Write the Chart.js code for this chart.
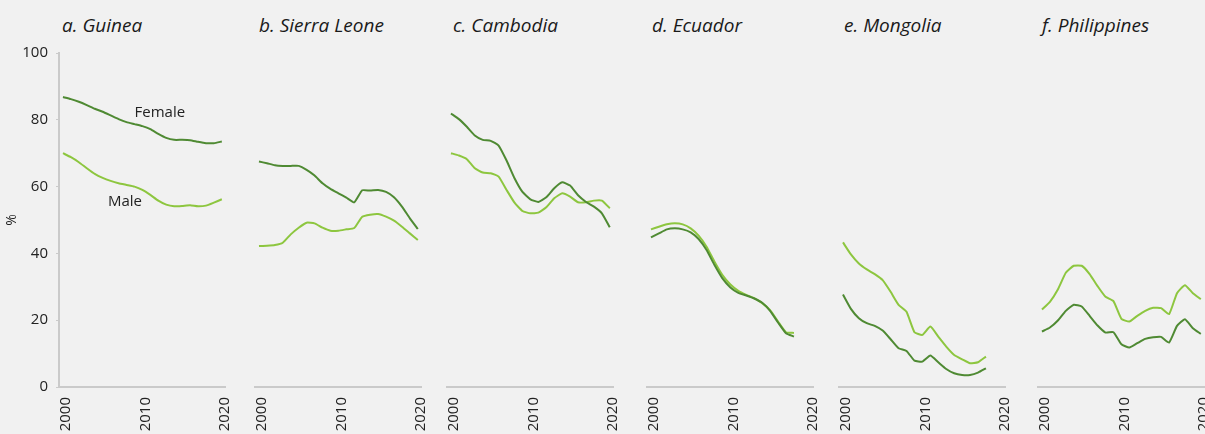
<!DOCTYPE html>
<html>
<head>
<meta charset="utf-8">
<script src="https://cdn.jsdelivr.net/npm/chart.js@4.4.1/dist/chart.umd.min.js"></script>
<style>
  html, body { margin: 0; padding: 0; background: #f1f1f1; }
  #fig { position: relative; width: 1205px; height: 434px; overflow: hidden; background: #f1f1f1;
         font-family: "Open Sans", sans-serif; }
  .panel { position: absolute; top: 0; height: 434px; }
  .ttl { position: absolute; top: 12px; font-style: italic; font-size: 19px; color: #1a1a1a; white-space: nowrap; }
</style>
</head>
<body>
<div id="fig">
  <div class="ttl" style="left:62px">a. Guinea</div>
  <div class="ttl" style="left:259px">b. Sierra Leone</div>
  <div class="ttl" style="left:453px">c. Cambodia</div>
  <div class="ttl" style="left:652px">d. Ecuador</div>
  <div class="ttl" style="left:844px">e. Mongolia</div>
  <div class="ttl" style="left:1042px">f. Philippines</div>
  <canvas id="pa" class="panel" style="left:0px" width="235" height="434"></canvas>
  <canvas id="pb" class="panel" style="left:245px" width="186" height="434"></canvas>
  <canvas id="pc" class="panel" style="left:437px" width="186" height="434"></canvas>
  <canvas id="pd" class="panel" style="left:637px" width="186" height="434"></canvas>
  <canvas id="pe" class="panel" style="left:829px" width="186" height="434"></canvas>
  <canvas id="pf" class="panel" style="left:1028px" width="186" height="434"></canvas>
</div>
<script>
// Years on the horizontal axis
const years = [2000, 2001, 2002, 2003, 2004, 2005, 2006, 2007, 2008, 2009, 2010,
               2011, 2012, 2013, 2014, 2015, 2016, 2017, 2018, 2019, 2020];
const xTickYears = [2000, 2010, 2020];
const yTickValues = [0, 20, 40, 60, 80, 100];

// Share of each group, percent
const guineaFemale = [86.8, 86.2, 85.4, 84.4, 83.3, 82.4, 81.3, 80.2, 79.3, 78.7, 78.1,
                      77.2, 75.8, 74.6, 74.0, 74.0, 73.9, 73.4, 73.0, 73.0, 73.5];
const guineaMale   = [70.0, 68.8, 67.3, 65.5, 63.8, 62.6, 61.7, 61.0, 60.5, 60.0, 59.0,
                      57.5, 55.8, 54.6, 54.1, 54.2, 54.4, 54.1, 54.3, 55.2, 56.2];

const sierraLeoneFemale = [67.5, 67.0, 66.4, 66.2, 66.2, 66.2, 65.0, 63.3, 61.0, 59.3, 58.0,
                           56.7, 55.3, 58.9, 58.8, 59.0, 58.4, 56.8, 54.0, 50.5, 47.3];
const sierraLeoneMale   = [42.2, 42.3, 42.5, 43.2, 45.7, 47.7, 49.2, 49.0, 47.7, 46.8, 46.8,
                           47.2, 47.6, 51.0, 51.6, 51.8, 51.0, 49.8, 48.0, 46.0, 44.0];

const cambodiaFemale = [81.9, 80.2, 77.9, 75.3, 74.0, 73.7, 72.3, 67.8, 62.5, 58.4, 56.2,
                        55.4, 56.8, 59.5, 61.3, 60.3, 57.4, 55.4, 54.0, 52.0, 47.8];
const cambodiaMale   = [70.0, 69.3, 68.2, 65.5, 64.2, 64.0, 63.0, 59.0, 55.2, 52.7, 52.0,
                        52.2, 53.8, 56.5, 58.0, 57.0, 55.3, 55.3, 55.8, 55.8, 53.5];

const ecuadorFemale = [44.8, 46.0, 47.2, 47.5, 47.2, 46.3, 44.3, 41.0, 36.5, 32.5, 29.8,
                       28.2, 27.4, 26.5, 25.2, 22.8, 19.3, 16.1, 15.1];
const ecuadorMale   = [47.2, 48.0, 48.7, 49.0, 48.7, 47.5, 45.3, 42.0, 37.5, 33.5, 30.7,
                       28.8, 27.6, 26.6, 25.1, 23.0, 19.6, 16.4, 16.2];

const mongoliaFemale = [27.7, 23.4, 20.6, 19.1, 18.3, 16.9, 14.3, 11.6, 10.8, 7.9, 7.6,
                        9.4, 7.4, 5.4, 4.1, 3.6, 3.6, 4.3, 5.6];
const mongoliaMale   = [43.3, 39.7, 37.0, 35.2, 33.8, 32.0, 28.5, 24.6, 22.5, 16.4, 15.6,
                        18.1, 15.1, 12.1, 9.6, 8.3, 7.1, 7.4, 9.1];

const philippinesFemale = [16.6, 17.8, 19.9, 22.8, 24.6, 24.1, 21.3, 18.4, 16.3, 16.4, 12.8,
                           11.8, 13.1, 14.4, 14.9, 15.0, 13.3, 18.3, 20.3, 17.6, 15.9];
const philippinesMale   = [23.2, 25.5, 29.2, 34.2, 36.3, 36.3, 33.8, 30.2, 27.0, 25.7, 20.4,
                           19.6, 21.3, 22.8, 23.7, 23.6, 21.8, 28.1, 30.5, 28.1, 26.3];

const FEMALE_COLOR = '#4f8a33';
const MALE_COLOR = '#8dc63f';
const AXIS_COLOR = '#cacaca';
const TEXT_COLOR = '#222222';
const FONT = '"Open Sans", sans-serif';

// Writes series names next to their lines, placed in data units
const seriesLabels = {
  id: 'seriesLabels',
  afterDatasetsDraw(chart, args, opts) {
    if (!opts.items) return;
    const { ctx, scales } = chart;
    ctx.save();
    ctx.font = '15px ' + FONT;
    ctx.fillStyle = TEXT_COLOR;
    ctx.textAlign = 'center';
    ctx.textBaseline = 'middle';
    for (const it of opts.items) {
      ctx.fillText(it.text, scales.x.getPixelForValue(it.x), scales.y.getPixelForValue(it.y));
    }
    ctx.restore();
  }
};

function points(values) {
  return values.map((v, i) => ({ x: years[i], y: v }));
}

function drawPanel(id, female, male, withAxis, labels) {
  const line = (name, vals, color) => ({
    label: name, data: points(vals), borderColor: color, borderWidth: 2,
    pointRadius: 0, tension: 0.15, fill: false
  });
  return new Chart(document.getElementById(id), {
    type: 'line',
    data: { datasets: [line('Female', female, FEMALE_COLOR), line('Male', male, MALE_COLOR)] },
    plugins: [seriesLabels],
    options: {
      responsive: false,
      animation: false,
      devicePixelRatio: 1,
      layout: { padding: { top: 53, left: withAxis ? 0 : 10, right: 10, bottom: 0 } },
      plugins: {
        legend: { display: false },
        tooltip: { enabled: false },
        seriesLabels: { items: labels || null }
      },
      scales: {
        x: {
          type: 'linear', min: 1999.5, max: 2020.4,
          afterBuildTicks: s => { s.ticks = xTickYears.map(v => ({ value: v })); },
          afterFit: s => { s.height = 47; s.paddingLeft = 0; s.paddingRight = 0; },
          grid: { display: false, drawTicks: false },
          border: { display: true, color: AXIS_COLOR, width: 2 },
          ticks: {
            minRotation: 90, maxRotation: 90, autoSkip: false, padding: 10, labelOffset: 3,
            color: TEXT_COLOR, font: { family: FONT, size: 15 },
            callback: v => String(v)
          }
        },
        y: {
          display: withAxis, min: 0, max: 100,
          afterBuildTicks: s => { s.ticks = yTickValues.map(v => ({ value: v })); },
          afterFit: s => { s.width = withAxis ? 59 : 0; s.paddingTop = 0; s.paddingBottom = 0; },
          grid: { drawOnChartArea: false, drawTicks: true, tickLength: 3, color: AXIS_COLOR },
          border: { display: true, color: AXIS_COLOR, width: 2 },
          ticks: { padding: 8, color: TEXT_COLOR, font: { family: FONT, size: 15 } },
          title: { display: true, text: '%', color: TEXT_COLOR, font: { family: FONT, size: 14 },
                   padding: { top: 4, bottom: 0 } }
        }
      }
    }
  });
}

drawPanel('pa', guineaFemale, guineaMale, true, [
  { text: 'Female', x: 2012.2, y: 82.0 },
  { text: 'Male', x: 2007.8, y: 55.4 }
]);
drawPanel('pb', sierraLeoneFemale, sierraLeoneMale, false);
drawPanel('pc', cambodiaFemale, cambodiaMale, false);
drawPanel('pd', ecuadorFemale, ecuadorMale, false);
drawPanel('pe', mongoliaFemale, mongoliaMale, false);
drawPanel('pf', philippinesFemale, philippinesMale, false);
</script>
</body>
</html>
